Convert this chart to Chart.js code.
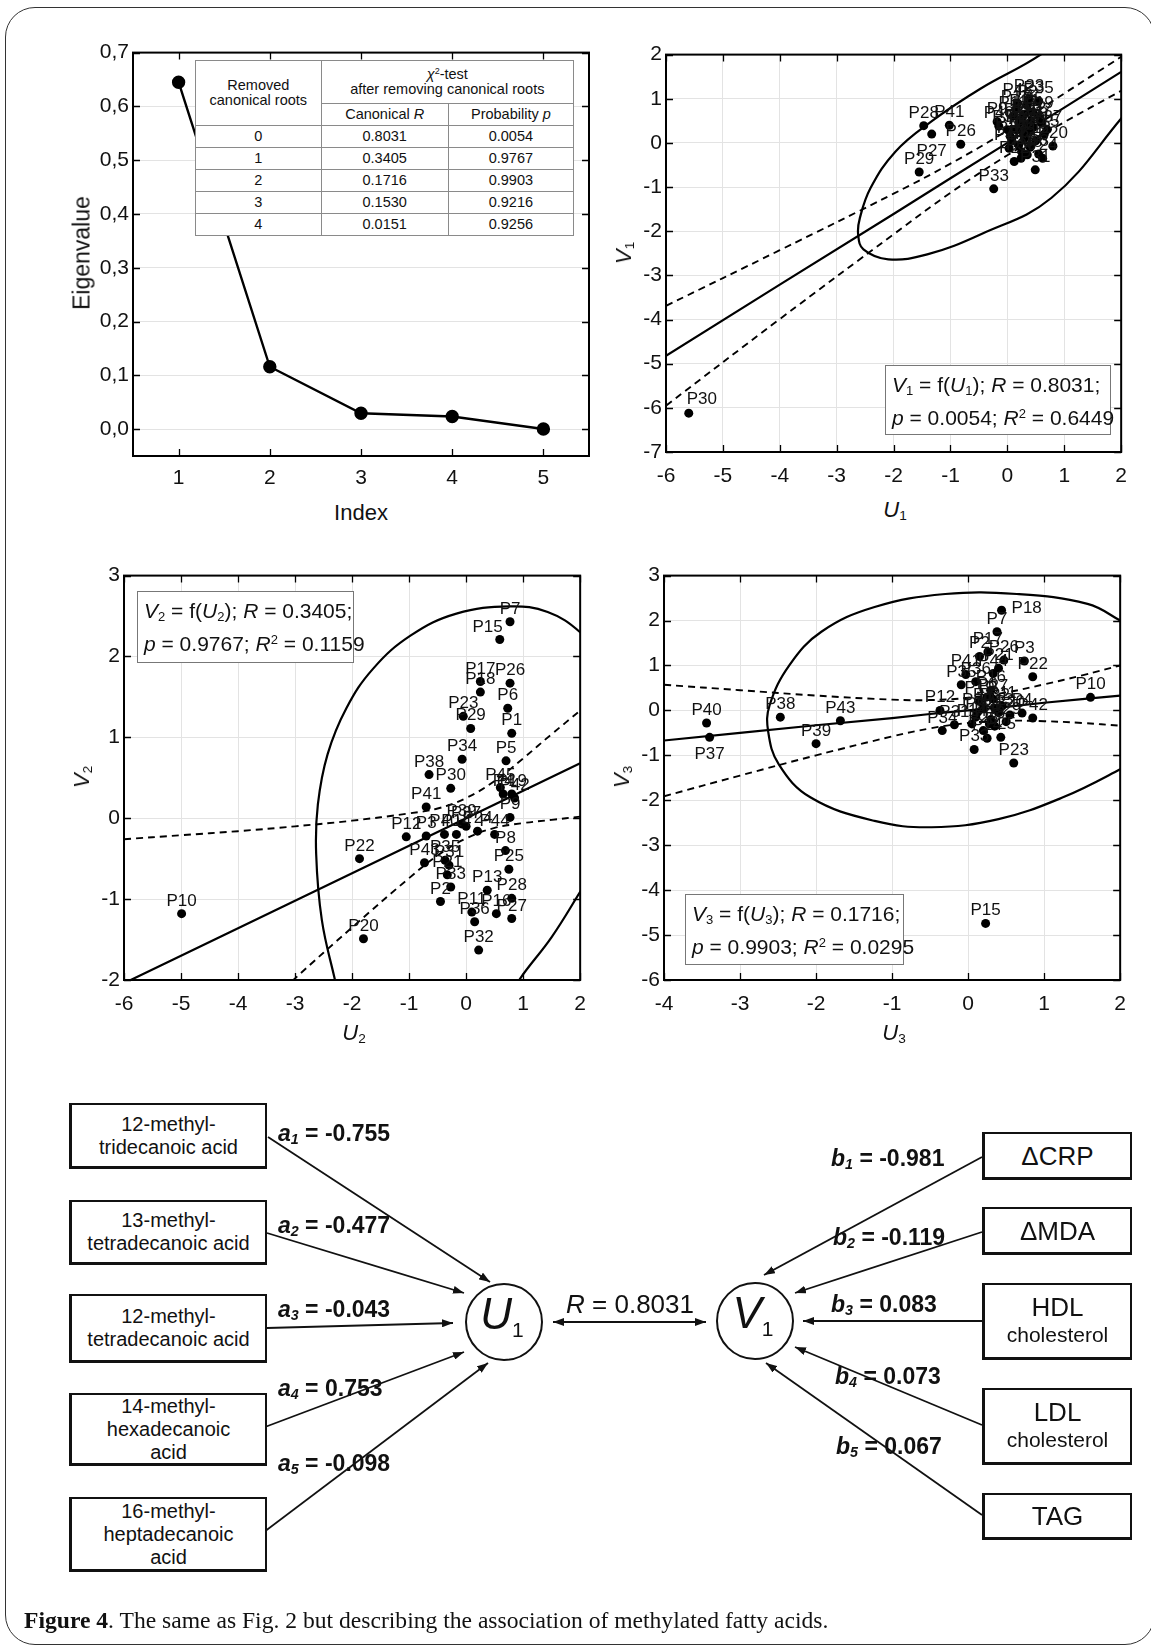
<!DOCTYPE html>
<html>
<head>
<meta charset="utf-8">
<script src="https://cdn.jsdelivr.net/npm/chart.js@4.4.1/dist/chart.umd.min.js"></script>
<style>
html,body{margin:0;padding:0;background:#fff;}
body{width:1151px;height:1648px;position:relative;overflow:hidden;font-family:'Liberation Sans',Arial,sans-serif;color:#111;}
canvas{position:absolute;}
#frame{position:absolute;left:5px;top:7px;width:1150px;height:1638px;border:1.6px solid #333;border-radius:30px;box-sizing:border-box;}
.narrow{font-family:'Liberation Sans Narrow','Arial Narrow','Liberation Sans',Arial,sans-serif;}
.ttl{position:absolute;transform:translate(-50%,-50%);white-space:nowrap;font-size:22px;}
.rot{transform:translate(-50%,-50%) rotate(-90deg);}
sub,sup{font-size:62%;line-height:0;}
sub{vertical-align:-0.25em;}
sup{vertical-align:0.55em;}
.tbox{position:absolute;background:#fff;border:1.5px solid #777;font-size:21px;line-height:33px;padding:2px 0 0 6px;box-sizing:border-box;white-space:nowrap;}
#chi{position:absolute;left:195px;top:60px;width:379px;height:175px;border-collapse:collapse;background:#fff;font-size:14.5px;line-height:15px;}
#chi td{border:1px solid #8a8a8a;text-align:center;padding:0;}
.dbox{position:absolute;border:2px solid #111;border-left-width:3px;border-bottom-width:3px;box-sizing:border-box;display:flex;flex-direction:column;align-items:center;justify-content:center;text-align:center;font-size:20px;line-height:23px;background:#fff;}
.coef{position:absolute;font-weight:bold;font-size:23px;white-space:nowrap;transform:translateY(-50%);}
.circ{position:absolute;border:2.5px solid #111;border-radius:50%;box-sizing:border-box;display:flex;align-items:center;justify-content:center;font-size:44px;line-height:44px;}
#cap{position:absolute;left:24px;top:1607px;font-family:'Liberation Serif','DejaVu Serif',serif;font-size:23.6px;white-space:nowrap;}
svg{position:absolute;left:0;top:0;}
</style>
</head>
<body>
<div id="frame"></div>

<canvas id="cEig"></canvas>
<canvas id="c1"></canvas>
<canvas id="c2"></canvas>
<canvas id="c3"></canvas>

<table id="chi" class="narrow">
<tr style="height:42.7px"><td rowspan="2" style="width:124.6px">Removed<br>canonical roots</td><td colspan="2"><i>χ</i><sup>2</sup>-test<br>after removing canonical roots</td></tr>
<tr style="height:22.3px"><td style="width:126.2px">Canonical <i>R</i></td><td>Probability <i>p</i></td></tr>
</table>

<div class="ttl rot narrow" style="left:82px;top:253px;font-size:23px;">Eigenvalue</div>
<div class="ttl narrow" style="left:361px;top:513px;">Index</div>
<div class="ttl rot narrow" style="left:624px;top:253px;"><i>V</i><sub>1</sub></div>
<div class="ttl narrow" style="left:895px;top:510px;"><i>U</i><sub>1</sub></div>
<div class="ttl rot narrow" style="left:82px;top:777px;"><i>V</i><sub>2</sub></div>
<div class="ttl narrow" style="left:354px;top:1033px;"><i>U</i><sub>2</sub></div>
<div class="ttl rot narrow" style="left:622px;top:777px;"><i>V</i><sub>3</sub></div>
<div class="ttl narrow" style="left:894px;top:1033px;"><i>U</i><sub>3</sub></div>

<div id="tb1" class="tbox narrow" style="left:885px;top:365px;width:226px;height:70px;"></div>
<div id="tb2" class="tbox narrow" style="left:137px;top:591px;width:217px;height:72px;"></div>
<div id="tb3" class="tbox narrow" style="left:685px;top:894px;width:219px;height:71px;"></div>

<svg width="1151" height="1648" viewBox="0 0 1151 1648">
<defs>
<marker id="ah" viewBox="0 0 11 8" refX="11" refY="4" markerWidth="11" markerHeight="8" markerUnits="userSpaceOnUse" orient="auto-start-reverse"><path d="M0,0 L11,4 L0,8 z" fill="#111"/></marker>
</defs>
<g id="arrows" stroke="#111" stroke-width="1.8" fill="none"></g>
</svg>

<div id="diagram"></div>

<div id="cap"><b>Figure 4</b>. The same as Fig. 2 but describing the association of methylated fatty acids.</div>

<script>
// ---------------- DATA ----------------
// Panel A: eigenvalues of canonical roots
const rootIndex   = [1, 2, 3, 4, 5];
const eigenvalues = [0.645, 0.1159, 0.0295, 0.0234, 0.0002];
const eigenXTicks = [1, 2, 3, 4, 5];
const eigenYTicks = [0, 0.1, 0.2, 0.3, 0.4, 0.5, 0.6, 0.7];

// chi-square table
const removedRoots = ['0', '1', '2', '3', '4'];
const canonicalR   = ['0.8031', '0.3405', '0.1716', '0.1530', '0.0151'];
const probabilityP = ['0.0054', '0.9767', '0.9903', '0.9216', '0.9256'];
const rSquared     = ['0.6449', '0.1159', '0.0295'];

// patients
const patients = ['P1','P2','P3','P4','P5','P6','P7','P8','P9','P10','P11','P12','P13','P14','P15',
  'P16','P17','P18','P19','P20','P21','P22','P23','P24','P25','P26','P27','P28','P29','P30',
  'P31','P32','P33','P34','P35','P36','P37','P38','P39','P40','P41','P42','P43','P44','P45'];

// Root 1 scores
const u1 = [0.25,0.35,0.55,0.15,0.45,0.30,0.60,0.20,-0.18,0.40,0.10,0.50,0.05,0.35,0.65,
  0.25,0.15,0.45,0.55,0.80,0.30,0.12,0.38,0.62,0.20,-0.82,-1.33,-1.47,-1.55,-5.60,
  0.49,0.40,-0.24,0.00,0.55,0.24,0.70,0.35,0.08,-0.15,-1.02,0.42,0.28,0.03,0.18];
const v1 = [0.55,0.85,-0.25,0.30,0.70,0.10,0.45,-0.05,0.48,0.25,0.60,0.05,0.15,0.40,0.20,
  -0.20,0.75,0.35,0.60,-0.07,0.65,-0.42,1.00,-0.35,0.45,-0.03,0.20,0.39,-0.66,-6.12,
  -0.61,-0.10,-1.04,0.30,0.95,-0.35,0.30,-0.27,0.05,0.38,0.40,0.50,0.25,-0.12,0.90];

// Root 2 scores
const u2 = [0.80,-0.45,-0.70,0.65,0.70,0.73,0.77,0.69,0.77,-4.99,0.10,-1.05,0.37,-0.17,0.59,
  0.53,0.25,0.25,0.80,-1.80,-0.33,-1.87,-0.05,0.20,0.75,0.77,0.80,0.80,0.08,-0.27,
  -0.30,0.22,-0.27,-0.07,-0.37,0.15,0.00,-0.65,-0.08,-0.38,-0.70,0.85,-0.73,0.50,0.60];
const v2 = [1.05,-1.03,-0.22,0.30,0.71,1.36,2.43,-0.40,0.01,-1.18,-1.16,-0.23,-0.89,-0.20,2.21,
  -1.18,1.69,1.56,0.30,-1.49,-0.70,-0.50,1.26,-0.16,-0.63,1.67,-1.24,-0.99,1.11,0.37,
  -0.58,-1.63,-0.85,0.73,-0.52,-1.28,-0.10,0.54,-0.07,-0.20,0.14,0.25,-0.55,-0.20,0.38];

// Root 3 scores
const u3 = [0.20,0.15,0.74,0.71,0.30,0.25,0.38,0.35,0.10,1.61,0.45,-0.37,0.40,0.05,0.23,
  0.30,0.26,0.44,0.15,0.55,0.40,0.85,0.60,0.25,0.43,0.47,0.33,0.20,0.50,0.12,
  -0.18,0.35,0.08,-0.34,-0.09,0.10,-3.40,-2.47,-2.00,-3.44,-0.03,0.85,-1.68,0.33,0.28];
const v3 = [0.05,1.20,1.10,-0.06,-0.20,0.30,1.75,-0.35,-0.15,0.29,0.10,0.00,-0.05,-0.30,-4.74,
  0.45,1.30,2.23,0.20,-0.10,0.94,0.75,-1.17,-0.62,-0.60,1.12,0.25,-0.45,-0.25,-0.05,
  -0.32,0.05,-0.87,-0.45,0.57,0.64,-0.60,-0.15,-0.74,-0.28,0.80,-0.17,-0.23,0.82,-0.30];

// regression lines and confidence bands
const band1X = [-6, -4, -2, -1, 0, 1, 2];
const fit1   = [-4.82, -3.21, -1.61, -0.80, 0.00, 0.80, 1.61];
const upper1 = [-3.69, -2.43, -1.15, -0.47, 0.28, 1.12, 1.95];
const lower1 = [-5.95, -3.99, -2.07, -1.13, -0.28, 0.47, 1.18];

const band2X = [-6, -5, -4, -3, -2, -1, -0.5, 0, 0.5, 1, 1.5, 2];
const fit2   = [-2.04, -1.70, -1.36, -1.02, -0.68, -0.34, -0.17, 0.00, 0.17, 0.34, 0.51, 0.68];
const upper2 = [-0.26, -0.21, -0.16, -0.10, -0.03, 0.06, 0.12, 0.25, 0.46, 0.74, 1.04, 1.33];
const lower2 = [-3.92, -3.27, -2.63, -1.98, -1.35, -0.74, -0.46, -0.25, -0.12, -0.06, -0.02, 0.02];

const band3X = [-4, -3, -2, -1, -0.5, 0, 0.5, 1, 1.5, 2];
const fit3   = [-0.67, -0.50, -0.33, -0.17, -0.08, 0.00, 0.08, 0.17, 0.25, 0.33];
const upper3 = [0.57, 0.45, 0.33, 0.24, 0.23, 0.28, 0.40, 0.58, 0.78, 1.00];
const lower3 = [-1.91, -1.45, -1.00, -0.58, -0.40, -0.28, -0.23, -0.24, -0.28, -0.34];

// confidence ellipses
const ellipse1 = [[0.95,2.45],[0.586,2.0],[-0.474,1.227],[-1.346,0.477],[-1.969,-0.198],[-2.405,-1.023],
  [-2.592,-1.698],[-2.623,-2.073],[-2.530,-2.411],[-2.093,-2.636],[-1.408,-2.524],[-0.474,-2.073],
  [0.772,-1.248],[2.0,0.552],[2.3,1.1]];
const ellipse2a = [[-2.2,-2.3],[-2.30,-2.0],[-2.53,-1.26],[-2.63,-0.44],[-2.60,0.17],[-2.43,0.79],
  [-2.10,1.36],[-1.63,1.85],[-0.97,2.26],[-0.17,2.53],[0.77,2.62],[1.43,2.55],[2.0,2.30],[2.4,1.95]];
const ellipse2b = [[2.4,-0.45],[2.0,-0.91],[1.5,-1.47],[0.93,-2.0],[0.7,-2.3]];
const ellipse3 = [[2.3,1.7],[2.0,2.0],[1.57,2.37],[0.64,2.59],[-0.30,2.59],[-1.23,2.30],[-1.93,1.75],
  [-2.35,1.01],[-2.61,0.12],[-2.63,-0.47],[-2.49,-1.20],[-2.07,-1.94],[-1.23,-2.46],[-0.48,-2.60],
  [0.40,-2.42],[1.24,-1.94],[2.0,-1.31],[2.3,-1.0]];

// axis ticks
const ticks1X = [-6,-5,-4,-3,-2,-1,0,1,2];
const ticks1Y = [-7,-6,-5,-4,-3,-2,-1,0,1,2];
const ticks2X = [-6,-5,-4,-3,-2,-1,0,1,2];
const ticks2Y = [-2,-1,0,1,2,3];
const ticks3X = [-4,-3,-2,-1,0,1,2];
const ticks3Y = [-6,-5,-4,-3,-2,-1,0,1,2,3];

// path diagram
const predictors = ['12-methyl-<br>tridecanoic acid','13-methyl-<br>tetradecanoic acid','12-methyl-<br>tetradecanoic acid',
  '14-methyl-<br>hexadecanoic<br>acid','16-methyl-<br>heptadecanoic<br>acid'];
const coefA = ['-0.755','-0.477','-0.043','0.753','-0.098'];
const outcomes = ['ΔCRP','ΔMDA','HDL<br><span style="font-size:21px">cholesterol</span>','LDL<br><span style="font-size:21px">cholesterol</span>','TAG'];
const coefB = ['-0.981','-0.119','0.083','0.073','0.067'];

// ---------------- RENDER ----------------
const NARROW = "'Liberation Sans Narrow','Arial Narrow','Liberation Sans',Arial,sans-serif";
Chart.defaults.font.family = NARROW;
Chart.defaults.color = '#111';

const PT = 14, PR = 14, YW = 64, XH = 44;
function place(id, box) {
  const c = document.getElementById(id);
  c.width = box.R - box.L + YW + PR;
  c.height = box.B - box.T + PT + XH;
  c.style.left = (box.L - YW) + 'px';
  c.style.top = (box.T - PT) + 'px';
  return c;
}
function axis(min, max, tv, fmt, isX, grid, pad) {
  return {
    type: 'linear', min, max,
    afterBuildTicks: s => { s.ticks = tv.map(v => ({ value: v })); },
    afterFit: s => { if (isX) s.height = XH; else s.width = YW; },
    grid: { display: grid, color: '#e3e3e3', lineWidth: 1, drawTicks: false },
    border: { display: false },
    ticks: { padding: pad, font: { size: 21 }, color: '#111', callback: fmt, autoSkip: false, maxRotation: 0 }
  };
}
const frameTicks = {
  id: 'frameTicks',
  afterDatasetsDraw(chart) {
    const { ctx, chartArea: a, scales: { x, y } } = chart;
    ctx.save();
    ctx.strokeStyle = '#000';
    ctx.lineWidth = 1.3;
    const L = 7;
    ctx.beginPath();
    x.ticks.forEach(t => {
      const p = Math.round(x.getPixelForValue(t.value)) + 0.5;
      ctx.moveTo(p, a.bottom); ctx.lineTo(p, a.bottom - L);
      ctx.moveTo(p, a.top); ctx.lineTo(p, a.top + L);
    });
    y.ticks.forEach(t => {
      const p = Math.round(y.getPixelForValue(t.value)) + 0.5;
      ctx.moveTo(a.left, p); ctx.lineTo(a.left + L, p);
      ctx.moveTo(a.right, p); ctx.lineTo(a.right - L, p);
    });
    ctx.stroke();
    ctx.lineWidth = 2;
    ctx.strokeRect(a.left, a.top, a.right - a.left, a.bottom - a.top);
    ctx.restore();
  }
};
function labelPlugin(names, placeMap) {
  return {
    id: 'ptLabels',
    afterDatasetsDraw(chart) {
      const ctx = chart.ctx, meta = chart.getDatasetMeta(0), a = chart.chartArea;
      ctx.save();
      ctx.beginPath(); ctx.rect(a.left, a.top, a.right - a.left, a.bottom - a.top); ctx.clip();
      ctx.font = '17px ' + NARROW;
      ctx.fillStyle = '#111';
      ctx.textBaseline = 'alphabetic';
      meta.data.forEach((el, i) => {
        const pos = placeMap[names[i]] || 'above';
        let x = el.x, y = el.y - 8;
        ctx.textAlign = 'center';
        if (pos === 'below') { y = el.y + 22; }
        else if (pos === 'right') { ctx.textAlign = 'left'; x = el.x + 10; y = el.y + 3; }
        else if (pos === 'aboveRight') { ctx.textAlign = 'left'; x = el.x - 2; y = el.y - 9; }
        else if (pos === 'aboveLeft') { ctx.textAlign = 'right'; x = el.x + 3; y = el.y - 7; }
        ctx.fillText(names[i], x, y);
      });
      ctx.restore();
    }
  };
}
const baseOpts = (sx, sy) => ({
  responsive: false, animation: false, devicePixelRatio: 1,
  layout: { padding: { top: PT, right: PR, left: 0, bottom: 0 } },
  plugins: { legend: { display: false }, tooltip: { enabled: false } },
  scales: { x: sx, y: sy }
});
const xy = (xs, ys) => xs.map((x, i) => ({ x, y: ys[i] }));
const pairs = arr => arr.map(p => ({ x: p[0], y: p[1] }));
const intFmt = v => String(v);

// Panel A
place('cEig', { L: 133, R: 589, T: 50, B: 456 });
new Chart(document.getElementById('cEig'), {
  type: 'scatter',
  data: { datasets: [{ data: xy(rootIndex, eigenvalues), showLine: true, borderColor: '#000', borderWidth: 2.4,
    pointRadius: 5.5, pointBackgroundColor: '#000', pointBorderColor: '#000', tension: 0 }] },
  options: baseOpts(
    axis(0.5, 5.5, eigenXTicks, intFmt, true, false, 10),
    axis(-0.05, 0.7, eigenYTicks, v => v.toFixed(1).replace('.', ','), false, true, 4)),
  plugins: [frameTicks]
});

function scatterPanel(id, box, us, vs, bx, fit, up, lo, ellipses, xr, yr, xt, yt, placeMap, xpad) {
  place(id, box);
  const ds = [{ data: xy(us, vs), showLine: false, pointRadius: 4.5, pointBackgroundColor: '#000', pointBorderColor: '#000', pointBorderWidth: 0 },
    { data: xy(bx, fit), showLine: true, borderColor: '#000', borderWidth: 2.2, pointRadius: 0, tension: 0 },
    { data: xy(bx, up), showLine: true, borderColor: '#000', borderWidth: 1.9, borderDash: [7, 5], pointRadius: 0, tension: 0.4 },
    { data: xy(bx, lo), showLine: true, borderColor: '#000', borderWidth: 1.9, borderDash: [7, 5], pointRadius: 0, tension: 0.4 }];
  ellipses.forEach(e => ds.push({ data: pairs(e), showLine: true, borderColor: '#000', borderWidth: 2.2, pointRadius: 0, tension: 0.4 }));
  new Chart(document.getElementById(id), {
    type: 'scatter',
    data: { datasets: ds },
    options: baseOpts(axis(xr[0], xr[1], xt, intFmt, true, true, xpad), axis(yr[0], yr[1], yt, intFmt, false, true, 4)),
    plugins: [frameTicks, labelPlugin(patients, placeMap)]
  });
}
scatterPanel('c1', { L: 666, R: 1125, T: 52, B: 452 }, u1, v1, band1X, fit1, upper1, lower1, [ellipse1],
  [-6, 2], [-7, 2], ticks1X, ticks1Y, { P27: 'below', P30: 'aboveRight' }, 12);
scatterPanel('c2', { L: 124, R: 584, T: 573, B: 980 }, u2, v2, band2X, fit2, upper2, lower2, [ellipse2a, ellipse2b],
  [-6, 2], [-2, 3], ticks2X, ticks2Y, { P15: 'aboveLeft' }, 12);
scatterPanel('c3', { L: 664, R: 1124, T: 573, B: 980 }, u3, v3, band3X, fit3, upper3, lower3, [ellipse3],
  [-4, 2], [-6, 3], ticks3X, ticks3Y, { P18: 'right', P37: 'below' }, 12);

// chi-square table rows
const tbl = document.getElementById('chi');
removedRoots.forEach((r, i) => {
  const tr = tbl.insertRow();
  tr.style.height = '22px';
  [r, canonicalR[i], probabilityP[i]].forEach(t => { const td = tr.insertCell(); td.textContent = t; });
});

// stat boxes
[1, 2, 3].forEach(k => {
  document.getElementById('tb' + k).innerHTML =
    `<i>V</i><sub>${k}</sub> = f(<i>U</i><sub>${k}</sub>); <i>R</i> = ${canonicalR[k - 1]};<br>` +
    `<i>p</i> = ${probabilityP[k - 1]}; <i>R</i><sup>2</sup> = ${rSquared[k - 1]}`;
});

// path diagram
const dg = document.getElementById('diagram');
const leftBoxes = [[1103, 66], [1200, 65], [1294, 69], [1393, 73], [1497, 75]];
const rightBoxes = [[1132, 48], [1207, 48], [1283, 77], [1388, 77], [1493, 47]];
predictors.forEach((t, i) => {
  const d = document.createElement('div');
  d.className = 'dbox';
  d.style.cssText = `left:69px;top:${leftBoxes[i][0]}px;width:198px;height:${leftBoxes[i][1]}px;`;
  d.innerHTML = t; dg.appendChild(d);
});
outcomes.forEach((t, i) => {
  const d = document.createElement('div');
  d.className = 'dbox';
  d.style.cssText = `left:982px;top:${rightBoxes[i][0]}px;width:150px;height:${rightBoxes[i][1]}px;font-size:26px;line-height:28px;`;
  d.innerHTML = t; dg.appendChild(d);
});
const aPos = [1133, 1225, 1309, 1388, 1463];
coefA.forEach((v, i) => {
  const d = document.createElement('div');
  d.className = 'coef';
  d.style.cssText = `left:278px;top:${aPos[i]}px;`;
  d.innerHTML = `<i>a</i><sub><i>${i + 1}</i></sub> = ${v}`; dg.appendChild(d);
});
const bPos = [[831, 1158], [833, 1237], [831, 1304], [835, 1376], [836, 1446]];
coefB.forEach((v, i) => {
  const d = document.createElement('div');
  d.className = 'coef';
  d.style.cssText = `left:${bPos[i][0]}px;top:${bPos[i][1]}px;`;
  d.innerHTML = `<i>b</i><sub><i>${i + 1}</i></sub> = ${v}`; dg.appendChild(d);
});
[['U', 504, 1322], ['V', 755, 1321]].forEach(c => {
  const d = document.createElement('div');
  d.className = 'circ';
  d.style.cssText = `left:${c[1] - 39}px;top:${c[2] - 39}px;width:78px;height:78px;`;
  d.innerHTML = `<span style="margin-left:-4px"><i>${c[0]}</i><span style="font-size:21px;vertical-align:-8px">1</span></span>`;
  dg.appendChild(d);
});
const rl = document.createElement('div');
rl.className = 'ttl';
rl.style.cssText = 'left:630px;top:1304px;font-size:26px;';
rl.innerHTML = `<i>R</i> = ${canonicalR[0]}`;
dg.appendChild(rl);

const arrowLines = [
  [268, 1137, 490, 1282], [267, 1233, 464, 1293], [267, 1328, 453, 1323], [265, 1427, 464, 1352], [264, 1532, 488, 1363],
  [982, 1157, 764, 1275], [982, 1232, 795, 1293], [982, 1321, 803, 1321], [982, 1425, 795, 1347], [982, 1515, 766, 1363]
];
const g = document.getElementById('arrows');
const NS = 'http://www.w3.org/2000/svg';
arrowLines.forEach(l => {
  const e = document.createElementNS(NS, 'line');
  e.setAttribute('x1', l[0]); e.setAttribute('y1', l[1]); e.setAttribute('x2', l[2]); e.setAttribute('y2', l[3]);
  e.setAttribute('marker-end', 'url(#ah)');
  g.appendChild(e);
});
const dbl = document.createElementNS(NS, 'line');
dbl.setAttribute('x1', 553); dbl.setAttribute('y1', 1322); dbl.setAttribute('x2', 706); dbl.setAttribute('y2', 1322);
dbl.setAttribute('marker-end', 'url(#ah)'); dbl.setAttribute('marker-start', 'url(#ah)');
g.appendChild(dbl);
</script>
</body>
</html>
